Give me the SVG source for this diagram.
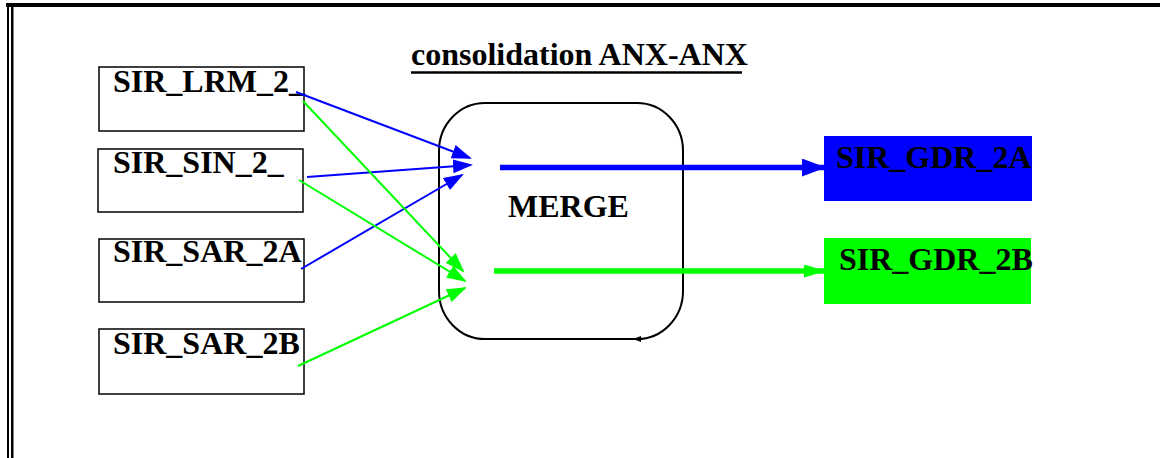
<svg xmlns="http://www.w3.org/2000/svg" width="1160" height="458" viewBox="0 0 1160 458">
<style>
.lbl{font-family:"Liberation Serif","Times New Roman",serif;font-weight:bold;font-size:32px;fill:#000}
.box{fill:#fff;stroke:#000;stroke-width:1.5}
.thinb{stroke:#0000ff;stroke-width:2;fill:none}
.thing{stroke:#00ff00;stroke-width:2;fill:none}
</style>
<defs>
<marker id="ab" markerUnits="userSpaceOnUse" markerWidth="22" markerHeight="16" refX="18" refY="7" orient="auto"><path d="M0,0 L20,7 L0,14 z" fill="#0000ff"/></marker>
<marker id="ag" markerUnits="userSpaceOnUse" markerWidth="22" markerHeight="16" refX="18" refY="7" orient="auto"><path d="M0,0 L20,7 L0,14 z" fill="#00ff00"/></marker>
<marker id="abT" markerUnits="userSpaceOnUse" markerWidth="26" markerHeight="20" refX="24" refY="9" orient="auto"><path d="M0,0 L24,9 L0,18 z" fill="#0000ff"/></marker>
<marker id="agT" markerUnits="userSpaceOnUse" markerWidth="24" markerHeight="15" refX="22" refY="6.5" orient="auto"><path d="M0,0 L22,6.5 L0,13 z" fill="#00ff00"/></marker>
</defs>
<rect width="1160" height="458" fill="#fff"/>
<g id="frame">
<rect x="6" y="3" width="1154" height="4" fill="#000"/>
<rect x="7" y="4" width="2" height="454" fill="#000"/>
<rect x="11" y="4" width="2.5" height="454" fill="#000"/>
</g>
<g id="title">
<text class="lbl" x="411" y="65">consolidation ANX-ANX</text>
<line x1="411" y1="72.5" x2="742" y2="72.5" stroke="#000" stroke-width="2.5"/>
</g>
<g id="merge">
<rect x="439" y="103" width="244" height="236" rx="46" ry="48" fill="none" stroke="#000" stroke-width="2"/>
<path d="M641,336 L633,339 L641,342 z" fill="#000"/>
<text class="lbl" x="508" y="217">MERGE</text>
</g>
<g id="sir_lrm_2">
<rect class="box" x="99" y="67" width="205" height="64"/>
<text class="lbl" x="113" y="92">SIR_LRM_2_</text>
</g>
<g id="sir_sin_2">
<rect class="box" x="98" y="149" width="205" height="63"/>
<text class="lbl" x="113" y="173">SIR_SIN_2_</text>
</g>
<g id="sir_sar_2a">
<rect class="box" x="99" y="239" width="205" height="63"/>
<text class="lbl" x="113" y="262">SIR_SAR_2A</text>
</g>
<g id="sir_sar_2b">
<rect class="box" x="99" y="329" width="205" height="65"/>
<text class="lbl" x="113" y="354">SIR_SAR_2B</text>
</g>
<g id="sir_gdr_2a">
<rect x="824" y="136" width="208" height="65" fill="#0000ff"/>
<text class="lbl" x="836" y="168">SIR_GDR_2A</text>
</g>
<g id="sir_gdr_2b">
<rect x="824" y="238" width="207" height="66" fill="#00ff00"/>
<text class="lbl" x="839" y="270">SIR_GDR_2B</text>
</g>
<g id="connectors">
<line class="thinb" x1="296" y1="92" x2="470" y2="158" marker-end="url(#ab)"/>
<line class="thinb" x1="307" y1="177" x2="471" y2="165" marker-end="url(#ab)"/>
<line class="thinb" x1="301" y1="269" x2="462" y2="175" marker-end="url(#ab)"/>
<line class="thing" x1="303" y1="101" x2="463" y2="271" marker-end="url(#ag)"/>
<line class="thing" x1="299" y1="180" x2="465" y2="281" marker-end="url(#ag)"/>
<line class="thing" x1="298" y1="366" x2="465" y2="288" marker-end="url(#ag)"/>
<line x1="500" y1="167.5" x2="826" y2="167.5" stroke="#0000ff" stroke-width="5.5" marker-end="url(#abT)"/>
<line x1="494" y1="271" x2="826" y2="271" stroke="#00ff00" stroke-width="5.5" marker-end="url(#agT)"/>
</g>
</svg>
